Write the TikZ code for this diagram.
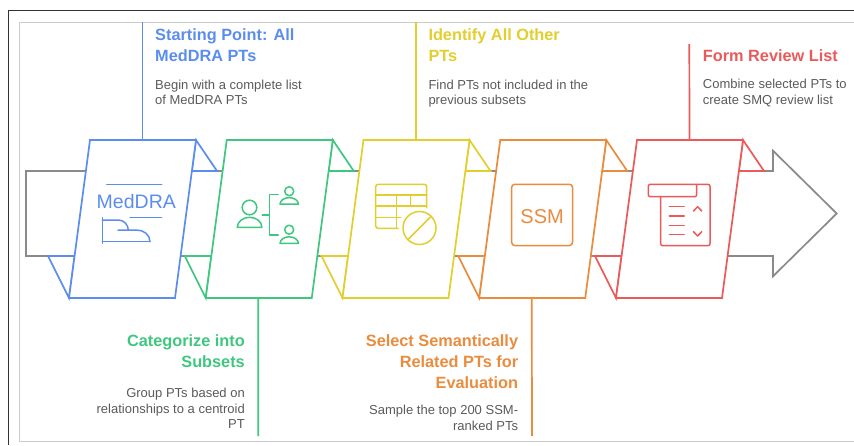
\documentclass[tikz,border=0pt]{standalone}
\usepackage{fontspec}
\setmainfont{Liberation Sans}
\definecolor{cblue}{HTML}{5B8DEF}
\definecolor{cgreen}{HTML}{3FC77F}
\definecolor{cyellow}{HTML}{E2CE2D}
\definecolor{corange}{HTML}{E98C3E}
\definecolor{cred}{HTML}{EB5A5A}
\definecolor{cband}{HTML}{8A8A8A}
\definecolor{ctext}{HTML}{5A5A5A}
\tikzset{
  ln/.style={line width=1.7pt, line join=miter},
  ic/.style={line width=1.5pt, line cap=round, line join=round},
  ttl/.style={inner sep=0pt, font=\fontsize{16.3}{20}\selectfont\bfseries},
  dsc/.style={inner sep=0pt, text=ctext, font=\fontsize{13}{16}\selectfont},
}
\begin{document}
\begin{tikzpicture}[x=1pt,y=-1pt]
\useasboundingbox (0,0) rectangle (854,445);
% screenshot frame
\draw[black!80, line width=1pt] (8,445) -- (8,10) -- (854,10);
\draw[black!20, line width=1pt] (854,22) -- (19,22) -- (19,441) -- (854,441);
% gray band arrow
\draw[cband, ln, fill=white] (26,171) -- (773,171) -- (773,150.7) -- (836.7,213.5) -- (773,276.3) -- (773,256) -- (26,256) -- cycle;
% steps
\foreach \i/\c in {0/cblue,1/cgreen,2/cyellow,3/corange,4/cred}{
  \pgfmathsetmacro\x{90+136.75*\i}
  \draw[\c, ln, fill=white] ({\x+106},140) -- ({\x+127},171) -- ({\x+101.9},171) -- cycle;
  \draw[\c, ln, fill=white] ({\x-42},256) -- ({\x-15.4},256) -- ({\x-21},298) -- cycle;
  \draw[\c, ln, fill=white] (\x,140) -- ({\x+106},140) -- ({\x+85},298) -- ({\x-21},298) -- cycle;
  \coordinate (top\i) at ({\x+52.5},140);
  \coordinate (bot\i) at ({\x+31.5},298);
}
% connector ends
\coordinate (e0) at (142.5,22);
\coordinate (e1) at (258.2,436);
\coordinate (e2) at (416,22);
\coordinate (e3) at (532,436);
\coordinate (e4) at (689.3,44);
\draw[cblue, ln] (top0) -- (e0);
\draw[cgreen, ln] (bot1) -- (e1);
\draw[cyellow, ln] (top2) -- (e2);
\draw[corange, ln] (bot3) -- (e3);
\draw[cred, ln] (top4) -- (e4);

% ---- icon 1: MedDRA
\draw[cblue, ic] (106.7,184.3) -- (161.7,184.3);
\node[cblue, inner sep=0pt, anchor=base, font=\fontsize{19.5}{20}\selectfont] (med) at (136.3,208.3) {MedDRA};
\draw[cblue, ic] (130,217.5) -- (161.7,217.5);
\draw[cblue, ic] (102.3,217.7) -- (102.3,243.3);
\draw[cblue, ic] (102.3,220) -- (118.3,220) .. controls (124,220) and (128.3,225) .. (128.3,230);
\draw[cblue, ic] (118,230) -- (136.7,230) .. controls (144,230) and (150,235) .. (150,241.7);
\draw[cblue, ic] (102.3,241.7) -- (150,241.7);

% ---- icon 2: people
\draw[cgreen, ic] (249.5,207.5) circle[radius=7.3];
\draw[cgreen, ic] (237.3,227.3) arc[start angle=180, end angle=360, x radius=12.3, y radius=10] -- cycle;
\draw[cgreen, ic] (262.3,215) -- (269.6,215);
\draw[cgreen, ic] (278.3,194.7) -- (269.6,194.7) -- (269.6,235) -- (278.3,235);
\draw[cgreen, ic] (289.2,191.2) circle[radius=4.5];
\draw[cgreen, ic] (280,204.2) arc[start angle=180, end angle=360, x radius=9.2, y radius=6.6] -- cycle;
\draw[cgreen, ic] (289.2,229.7) circle[radius=4.5];
\draw[cgreen, ic] (280,243.4) arc[start angle=180, end angle=360, x radius=9.2, y radius=6.6] -- cycle;

% ---- icon 3: table with forbidden sign
\draw[cyellow, ic, rounded corners=2.5pt] (375.7,184.3) rectangle (426.7,228.3);
\draw[cyellow, ic] (375.7,195) -- (426.7,195);
\draw[cyellow, ic] (375.7,206) -- (426.7,206);
\draw[cyellow, ic] (375.7,217.3) -- (410,217.3);
\draw[cyellow, ic] (396.7,195) -- (396.7,228.3);
\draw[cyellow, ic] (410.7,195) -- (410.7,206);
\fill[white] (419.5,228) circle[radius=21];
\draw[cyellow, ic] (419.5,228) circle[radius=16.5];
\draw[cyellow, ic] (431.2,216.3) -- (407.8,239.7);

% ---- icon 4: SSM
\draw[corange, ic, rounded corners=3pt] (511.7,184.3) rectangle (572.5,245.5);
\node[corange, inner sep=0pt, anchor=base, font=\fontsize{20}{20}\selectfont] (ssm) at (542.1,223.8) {SSM};

% ---- icon 5: review list
\draw[cred, ic, rounded corners=2pt] (660.7,196.7) -- (660.7,245.7) -- (710,245.7) -- (710,184.3) -- (648.3,184.3) -- (648.3,196.7) -- (696.7,196.7) -- (696.7,184.3);
\draw[cred, ic] (669.3,206.7) -- (684.3,206.7);
\draw[cred, ic] (669.3,216) -- (684.3,216);
\draw[cred, ic] (669.3,225.3) -- (684.3,225.3);
\draw[cred, ic] (669.3,234.7) -- (684.3,234.7);
\draw[cred, ic] (693.5,211) -- (697.6,206.7) -- (701.7,211);
\draw[cred, ic] (693.5,231.7) -- (697.6,236) -- (701.7,231.7);

% ---- texts: step 1 (blue, top)
\node[ttl, text=cblue, anchor=base west] (t1a) at (155,40) {Starting Point: All};
\node[ttl, text=cblue, anchor=base west] (t1b) at (155,61.7) {MedDRA PTs};
\node[dsc, anchor=base west] (d1a) at (155,89) {Begin with a complete list};
\node[dsc, anchor=base west] (d1b) at (155,104.5) {of MedDRA PTs};
% step 2 (green, bottom)
\node[ttl, text=cgreen, anchor=base east] (t2a) at (245,346.7) {Categorize into};
\node[ttl, text=cgreen, anchor=base east] (t2b) at (245,367.3) {Subsets};
\node[dsc, anchor=base east] (d2a) at (245,397.5) {Group PTs based on};
\node[dsc, anchor=base east] (d2b) at (245,413) {relationships to a centroid};
\node[dsc, anchor=base east] (d2c) at (245,428.3) {PT};
% step 3 (yellow, top)
\node[ttl, text=cyellow, anchor=base west] (t3a) at (428.3,40) {Identify All Other};
\node[ttl, text=cyellow, anchor=base west] (t3b) at (428.3,61.7) {PTs};
\node[dsc, anchor=base west] (d3a) at (428.3,89) {Find PTs not included in the};
\node[dsc, anchor=base west] (d3b) at (428.3,104.5) {previous subsets};
% step 4 (orange, bottom)
\node[ttl, text=corange, anchor=base east] (t4a) at (518.3,346.5) {Select Semantically};
\node[ttl, text=corange, anchor=base east] (t4b) at (518.3,367) {Related PTs for};
\node[ttl, text=corange, anchor=base east] (t4c) at (518.3,388) {Evaluation};
\node[dsc, anchor=base east] (d4a) at (518.3,414.3) {Sample the top 200 SSM-};
\node[dsc, anchor=base east] (d4b) at (518.3,430) {ranked PTs};
% step 5 (red, top)
\node[ttl, text=cred, anchor=base west] (t5a) at (702.7,61.7) {Form Review List};
\node[dsc, anchor=base west] (d5a) at (702.7,88.5) {Combine selected PTs to};
\node[dsc, anchor=base west] (d5b) at (702.7,104) {create SMQ review list};
\end{tikzpicture}
\end{document}
